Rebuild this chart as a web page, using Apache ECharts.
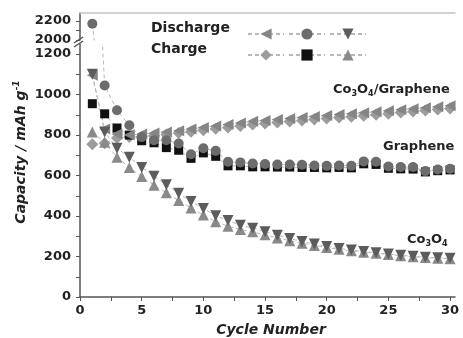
<!DOCTYPE html>
<html><head><meta charset="utf-8">
<script src="https://cdn.jsdelivr.net/npm/echarts@6/dist/echarts.min.js"></script>
<style>html,body{margin:0;padding:0;background:#fff}#c{width:463px;height:338px}</style>
</head><body><div id="c"></div>
<script>
const cycles = [1,2,3,4,5,6,7,8,9,10,11,12,13,14,15,16,17,18,19,20,21,22,23,24,25,26,27,28,29,30];
const compositeDischarge = [1095,830,805,800,805,810,815,822,830,838,845,852,860,868,872,877,882,887,892,897,902,906,910,915,920,925,930,935,940,945];
const compositeCharge    = [755,760,785,790,792,797,803,810,817,824,831,838,845,852,857,862,867,872,877,882,887,891,896,901,906,911,916,921,926,931];
const grapheneDischarge  = [2170,1045,923,849,790,775,775,758,705,735,722,668,665,660,657,655,655,653,650,648,650,648,670,668,645,642,642,622,630,634];
const grapheneCharge     = [955,905,835,800,772,762,738,725,685,712,695,648,648,643,643,642,642,640,640,638,640,638,658,655,636,633,632,618,624,628];
const co3o4Discharge     = [1100,815,735,690,640,597,555,512,472,437,402,378,355,340,322,305,289,274,262,250,240,232,225,219,212,206,201,197,194,191];
const co3o4Charge        = [815,765,690,640,595,552,515,477,440,405,372,350,333,322,307,292,278,265,255,244,236,228,221,216,210,204,199,195,192,189];
const xTickLabels = [0,5,10,15,20,25,30];
const yTickLabelsLow = [0,200,400,600,800,1000,1200];
const yTickLabelsHigh = [2000,2200];

const FONT = 'DejaVu Sans';
const chart = echarts.init(document.getElementById('c'));

function mk(name, data, symbol, rot, color, size, idx) {
  return {
    name, type: 'line', xAxisIndex: idx, yAxisIndex: idx,
    data: cycles.map((c, i) => [c, data[i]]),
    symbol, symbolRotate: rot, symbolSize: size, clip: true,
    itemStyle: { color, opacity: 1 },
    lineStyle: { color: '#b8b8b8', width: 1, type: [4, 3] },
    emphasis: { disabled: true }, animation: false, z: 2
  };
}
const N = {
  cd: 'Co3O4/Graphene discharge', gd: 'Graphene discharge', od: 'Co3O4 discharge',
  cc: 'Co3O4/Graphene charge', gc: 'Graphene charge', oc: 'Co3O4 charge'
};
const series = [
  mk(N.cc, compositeCharge, 'diamond', 0, '#9c9c9c', 12, 1),
  mk(N.gc, grapheneCharge, 'rect', 0, '#111111', 9, 1),
  mk(N.oc, co3o4Charge, 'triangle', 0, '#8a8a8a', 11, 1),
  mk(N.cd, compositeDischarge, 'triangle', 90, '#858585', 11, 1),
  mk(N.gd, grapheneDischarge, 'circle', 0, '#6c6c6c', 10, 1),
  mk(N.od, co3o4Discharge, 'triangle', 180, '#5c5c5c', 11, 1),
  mk(N.gd, grapheneDischarge, 'circle', 0, '#6c6c6c', 10, 0)
];

const labelStyle = { fontFamily: FONT, fontWeight: 'bold', fontSize: 13, color: '#222', formatter: v => String(v) };
const xBase = {
  type: 'value', min: 0, max: 30.4, interval: 5,
  splitLine: { show: false }
};
option = {
  animation: false,
  textStyle: { fontFamily: FONT },
  grid: [
    { left: 80, width: 375, top: 13, height: 27 },
    { left: 80, width: 375, top: 44, height: 253 }
  ],
  xAxis: [
    Object.assign({}, xBase, { gridIndex: 0, position: 'top',
      axisLine: { show: true, lineStyle: { color: '#c4c4c4', width: 1.5 } },
      axisTick: { show: false }, axisLabel: { show: false } }),
    Object.assign({}, xBase, { gridIndex: 1, position: 'bottom',
      axisLine: { show: true, onZero: false, lineStyle: { color: '#555', width: 1.5 } },
      axisTick: { show: true, length: 4, lineStyle: { color: '#555' }, customValues: [0,2.5,5,7.5,10,12.5,15,17.5,20,22.5,25,27.5,30] },
      axisLabel: Object.assign({ margin: 7, customValues: xTickLabels }, labelStyle) })
  ],
  yAxis: [
    { type: 'value', gridIndex: 0, min: 2000, max: 2284, interval: 100,
      splitLine: { show: false },
      axisLine: { show: true, lineStyle: { color: '#555', width: 1.5 } },
      axisTick: { show: true, length: 4, lineStyle: { color: '#555' }, customValues: [2000,2100,2200] },
      axisLabel: Object.assign({ margin: 9, customValues: yTickLabelsHigh }, labelStyle) },
    { type: 'value', gridIndex: 1, min: 0, max: 1250, interval: 100,
      splitLine: { show: false },
      axisLine: { show: true, onZero: false, lineStyle: { color: '#555', width: 1.5 } },
      axisTick: { show: true, length: 4, lineStyle: { color: '#555' }, customValues: [0,100,200,300,400,500,600,700,800,900,1000,1100,1200] },
      axisLabel: Object.assign({ margin: 9, customValues: yTickLabelsLow }, labelStyle) }
  ],
  legend: [
    { data: [N.cd, N.gd, N.od], left: 242, top: 22, itemWidth: 36, itemHeight: 14, itemGap: 3,
      formatter: () => '', selectedMode: false, textStyle: { fontSize: 1 } },
    { data: [N.cc, N.gc, N.oc], left: 242, top: 43, itemWidth: 36, itemHeight: 14, itemGap: 3,
      formatter: () => '', selectedMode: false, textStyle: { fontSize: 1 } }
  ],
  graphic: [
    { type: 'text', left: 151, top: 21, style: { text: 'Discharge', font: 'bold 14px ' + FONT, fill: '#222' } },
    { type: 'text', left: 151, top: 42, style: { text: 'Charge', font: 'bold 14px ' + FONT, fill: '#222' } },
    { type: 'text', x: 333, y: 82, style: {
        text: '{b|Co}{s|3}{b|O}{s|4}{b|/Graphene}',
        rich: { b: { fontFamily: FONT, fontWeight: 'bold', fontSize: 13, fill: '#222', lineHeight: 16 },
                s: { fontFamily: FONT, fontWeight: 'bold', fontSize: 8, fill: '#222', lineHeight: 16, verticalAlign: 'bottom' } } } },
    { type: 'text', x: 383, y: 140, style: { text: 'Graphene', font: 'bold 13px ' + FONT, fill: '#222' } },
    { type: 'text', x: 407, y: 232, style: {
        text: '{b|Co}{s|3}{b|O}{s|4}',
        rich: { b: { fontFamily: FONT, fontWeight: 'bold', fontSize: 13, fill: '#222', lineHeight: 16 },
                s: { fontFamily: FONT, fontWeight: 'bold', fontSize: 8, fill: '#222', lineHeight: 16, verticalAlign: 'bottom' } } } },
    { type: 'text', x: 271, y: 330, style: { text: 'Cycle Number', font: 'italic bold 14px ' + FONT, fill: '#222', align: 'center', verticalAlign: 'middle' } },
    { type: 'text', x: 21, y: 152, rotation: Math.PI / 2, style: {
        text: '{t|Capacity / mAh g}{u|-1}', align: 'center', verticalAlign: 'middle',
        rich: { t: { fontFamily: FONT, fontWeight: 'bold', fontStyle: 'italic', fontSize: 14, fill: '#222', lineHeight: 18 },
                u: { fontFamily: FONT, fontWeight: 'bold', fontStyle: 'italic', fontSize: 9, fill: '#222', lineHeight: 18, verticalAlign: 'top' } } } },
    { type: 'line', shape: { x1: 74, y1: 43, x2: 83, y2: 37 }, style: { stroke: '#555', lineWidth: 1.5 } },
    { type: 'line', shape: { x1: 74, y1: 47, x2: 83, y2: 41 }, style: { stroke: '#555', lineWidth: 1.5 } }
  ],
  series
};
chart.setOption(option);
</script></body></html>
